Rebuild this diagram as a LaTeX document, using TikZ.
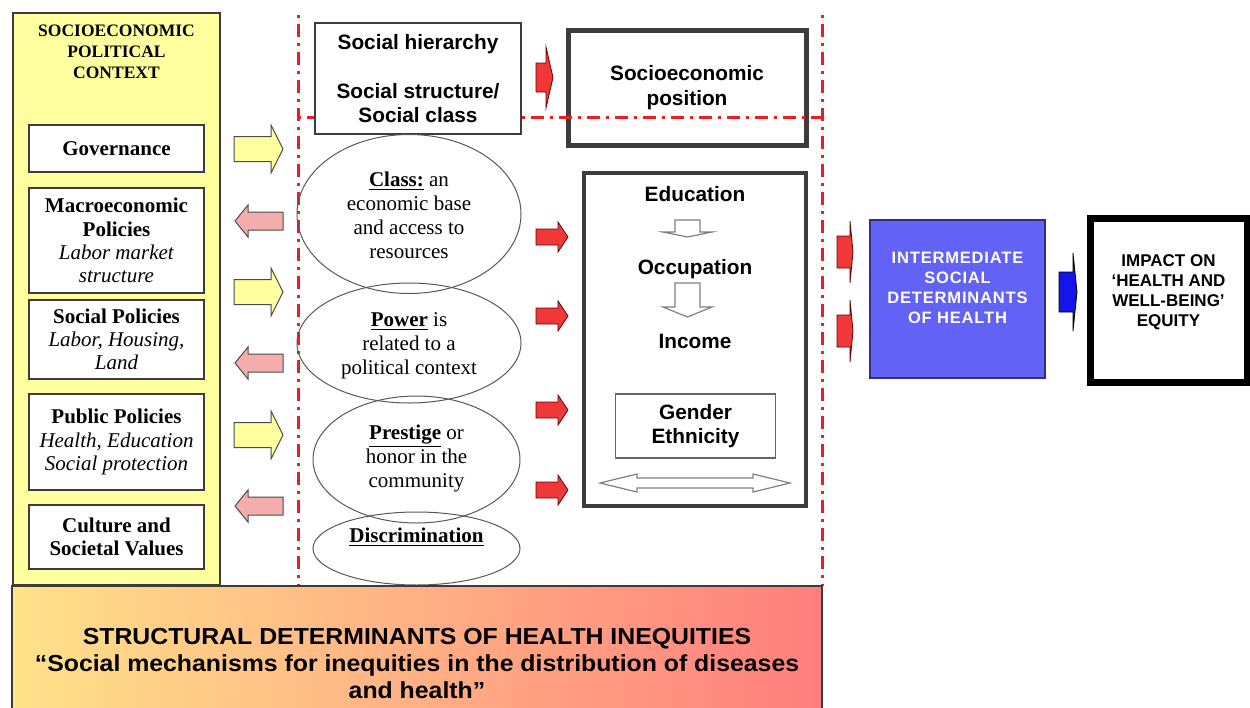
\documentclass[tikz,border=0pt]{standalone}
\usepackage{fontspec}
\setmainfont{Liberation Serif}
\setsansfont{Liberation Sans}
\newfontfamily\bandfont[FakeStretch=1.07]{Liberation Sans}
\newfontfamily\widesans[LetterSpace=5]{Liberation Sans}
\usetikzlibrary{shapes.geometric}

\definecolor{panelyellow}{RGB}{255,255,160}
\definecolor{arrowpink}{RGB}{245,172,172}
\definecolor{arrowred}{RGB}{240,56,56}
\definecolor{dashred}{RGB}{235,30,30}
\definecolor{interblue}{RGB}{98,98,246}
\definecolor{impactblue}{RGB}{20,20,235}
\definecolor{bandyellow}{RGB}{255,226,138}
\definecolor{bandorange}{RGB}{255,190,128}
\definecolor{bandred}{RGB}{255,126,126}
\definecolor{boxgray}{RGB}{60,60,60}

\tikzset{
  leftbox/.style={draw=boxgray, line width=0.75pt, fill=white, minimum width=87.5pt,
    inner sep=0pt, align=center, font=\fontsize{10.5}{11.6}\selectfont},
  sansbox/.style={draw=boxgray, fill=white, inner sep=0pt, align=center,
    font=\sffamily\bfseries\fontsize{10.4}{12.2}\selectfont},
  oval/.style={ellipse, draw=gray!70!black, line width=0.5pt, inner sep=0pt},
  ovaltext/.style={align=center, font=\fontsize{10.5}{12}\selectfont},
  dashdot/.style={dashred, line width=1.5pt, dash pattern=on 1.5pt off 3pt on 6.5pt off 3pt},
  yellowarrow/.style={fill=panelyellow, draw=gray!60!black, line width=0.5pt},
  pinkarrow/.style={fill=arrowpink, draw=gray!60!black, line width=0.5pt},
  redarrow/.style={fill=arrowred, draw=red!40!black, line width=0.4pt},
  hollowarrow/.style={fill=white, draw=gray, line width=0.6pt},
}

\begin{document}
\begin{tikzpicture}[x=0.5pt, y=-0.5pt]
  \useasboundingbox (0,0) rectangle (1250,708);
  \fill[white] (0,0) rectangle (1250,708);

  % Contesto socioeconomico e politico
  \node[draw=boxgray, line width=0.75pt, fill=panelyellow, minimum width=103.5pt,
    minimum height=286pt, inner sep=0pt] (panel) at (116.5,299) {};
  \node[align=center, font=\bfseries\fontsize{8.75}{10.5}\selectfont] (context) at (116.5,52)
    {SOCIOECONOMIC\\POLITICAL\\CONTEXT};
  \node[leftbox, minimum height=23.5pt] (gov) at (116.5,148.5) {\textbf{Governance}};
  \node[leftbox, minimum height=52.5pt] (macro) at (116.5,240.5)
    {\textbf{Macroeconomic}\\\textbf{Policies}\\\textit{Labor market}\\\textit{structure}};
  \node[leftbox, minimum height=39.5pt] (socpol) at (116.5,339.5)
    {\textbf{Social Policies}\\\textit{Labor, Housing,}\\\textit{Land}};
  \node[leftbox, minimum height=48pt] (pubpol) at (116.5,442)
    {\textbf{Public Policies}\\\textit{Health, Education}\\\textit{Social protection}};
  \node[leftbox, minimum height=32pt] (culture) at (116.5,537)
    {\textbf{Culture and}\\\textbf{Societal Values}};

  % Frecce tra contesto e meccanismi
  \foreach \y in {149,292,435}
    \draw[yellowarrow] (234,\y-12.5) -- (271,\y-12.5) -- (271,\y-24) -- (283,\y)
      -- (271,\y+24) -- (271,\y+12.5) -- (234,\y+12.5) -- cycle;
  \foreach \y in {221,363,506}
    \draw[pinkarrow] (283,\y-9) -- (248,\y-9) -- (248,\y-16) -- (235,\y)
      -- (248,\y+16) -- (248,\y+9) -- (283,\y+9) -- cycle;

  % Linee tratteggiate rosse
  \draw[dashdot] (298,15) -- (298,586);
  \draw[dashdot] (822,15) -- (822,586);

  % Posizione socioeconomica
  \node[sansbox, draw=boxgray, line width=2.5pt, minimum width=119pt, minimum height=57.5pt]
    (sep) at (687,87.5) {Socioeconomic\\position};
  \draw[dashdot] (298,117) -- (822,117);
  \node[sansbox, line width=0.6pt, minimum width=103pt, minimum height=55.5pt] (hier) at (418,78.5)
    {Social hierarchy\\[12.2pt]Social structure/\\Social class};
  \draw[redarrow] (536,63) -- (546,63) -- (546,47) -- (553,77.5) -- (546,108) -- (546,92)
    -- (536,92) -- cycle;

  % Ellissi
  \node[oval, minimum width=112pt, minimum height=79.5pt] (class) at (409,214) {};
  \node[oval, minimum width=112pt, minimum height=60pt] (power) at (409,343) {};
  \node[oval, minimum width=103.5pt, minimum height=63.5pt] (prestige) at (416.5,459.5) {};
  \node[oval, minimum width=103.5pt, minimum height=36.5pt] (discr) at (416.5,548.5) {};
  \node[ovaltext] (classtext) at (409,215)
    {\underline{\textbf{Class:}} an\\economic base\\and access to\\resources};
  \node[ovaltext] (powertext) at (409,346)
    {\underline{\textbf{Power}} is\\related to a\\political context};
  \node[ovaltext] (prestigetext) at (416.5,458)
    {\underline{\textbf{Prestige}} or\\honor in the\\community};
  \node[ovaltext] (discrtext) at (416.5,537) {\underline{\textbf{Discrimination}}};

  \foreach \y in {237,316,410,490}
    \draw[redarrow] (536,\y-8) -- (558,\y-8) -- (558,\y-15) -- (568,\y)
      -- (558,\y+15) -- (558,\y+8) -- (536,\y+8) -- cycle;

  % Istruzione, occupazione, reddito
  \node[draw=boxgray, line width=2pt, minimum width=111pt, minimum height=166.5pt, inner sep=0pt]
    (edubox) at (695,339.5) {};
  \node[font=\sffamily\bfseries\fontsize{10.4}{12.2}\selectfont] (edu) at (695,194) {Education};
  \node[font=\sffamily\bfseries\fontsize{10.4}{12.2}\selectfont] (occ) at (695,269) {Occupation};
  \node[font=\sffamily\bfseries\fontsize{10.4}{12.2}\selectfont] (inc) at (695,341) {Income};
  \node[sansbox, draw=gray!80!black, line width=0.6pt, minimum width=80pt, minimum height=32pt]
    (gender) at (695.5,426) {Gender\\Ethnicity};
  \draw[hollowarrow] (675,220) -- (700,220) -- (700,232) -- (712,232) -- (687.5,237)
    -- (663,232) -- (675,232) -- cycle;
  \draw[hollowarrow] (675,283) -- (700,283) -- (700,307) -- (712,307) -- (687.5,317)
    -- (663,307) -- (675,307) -- cycle;
  \draw[hollowarrow] (600,483) -- (637,474) -- (637,478) -- (753,478) -- (753,474) -- (790,483)
    -- (753,492) -- (753,488) -- (637,488) -- (637,492) -- cycle;

  % Determinanti intermedi e impatto
  \foreach \y in {252,331}
    \draw[redarrow] (837,\y-16) -- (850,\y-16) -- (850,\y-31) -- (853,\y)
      -- (850,\y+31) -- (850,\y+16) -- (837,\y+16) -- cycle;
  \node[draw=interblue!50!black, fill=interblue, line width=0.6pt, minimum width=87.5pt,
    minimum height=79pt] (inter) at (957.5,299) {};
  \node[align=center, text=white, font=\widesans\bfseries\fontsize{8.25}{10}\selectfont]
    (intertext) at (957.5,288) {INTERMEDIATE\\SOCIAL\\DETERMINANTS\\OF HEALTH};
  \draw[fill=impactblue, draw=black, line width=0.4pt] (1059,272) -- (1073,272) -- (1073,253)
    -- (1077,292) -- (1073,331) -- (1073,312) -- (1059,312) -- cycle;
  \node[draw=black, line width=3.5pt, minimum width=78.5pt, minimum height=82pt] (impact)
    at (1168.5,300) {};
  \node[align=center, font=\sffamily\bfseries\fontsize{8.5}{10}\selectfont] (impacttext)
    at (1168.5,292) {IMPACT ON\\‘HEALTH AND\\WELL-BEING’\\EQUITY};

  % Fascia dei determinanti strutturali
  \node[shade, left color=bandyellow, middle color=bandorange, right color=bandred,
    draw=boxgray, line width=0.75pt, minimum width=405pt, minimum height=63pt, inner sep=0pt]
    (band) at (417,649) {};
  \node[align=center, font=\bandfont\bfseries\fontsize{11.6}{13.5}\selectfont] (bandtext)
    at (417,664) {STRUCTURAL DETERMINANTS OF HEALTH INEQUITIES\\“Social mechanisms for
    inequities in the distribution of diseases\\and health”};
\end{tikzpicture}
\end{document}
